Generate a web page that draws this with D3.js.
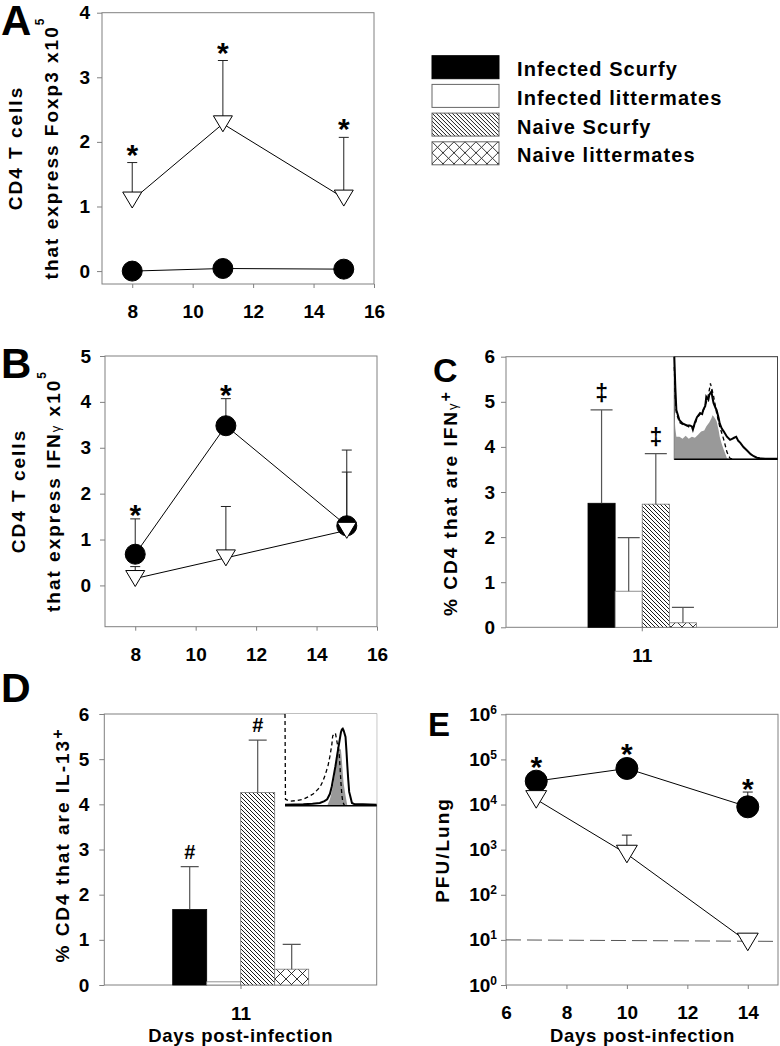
<!DOCTYPE html>
<html>
<head>
<meta charset="utf-8">
<script src="https://cdn.jsdelivr.net/npm/d3@7"></script>
<style>
body { margin: 0; background: #fff; }
svg text { font-family: "Liberation Sans", Arial, sans-serif; font-weight: bold; fill: #000; }
</style>
</head>
<body>
<svg id="fig" width="780" height="1046"></svg>
<script>

// ---- data ----
// A: CD4 T cells expressing Foxp3 (x10^5)
var foxDays = [8, 11, 15];
var foxScurfy = [0.0, 0.04, 0.03];
var foxScurfyErr = [0, 0, 0];
var foxLitter = [1.10, 2.28, 1.13];
var foxLitterErr = [0.58, 0.98, 0.94];
var foxLitterStar = [true, true, true];

// B: CD4 T cells expressing IFNg (x10^5)
var ifnDays = [8, 11, 15];
var ifnScurfy = [0.68, 3.48, 1.30];
var ifnScurfyErr = [0.77, 0.59, 1.65];
var ifnScurfyStar = [true, true, false];
var ifnLitter = [0.15, 0.60, 1.20];
var ifnLitterErr = [0.26, 1.12, 1.27];

// C / D: % of CD4 at day 11
var groups = ["Infected Scurfy", "Infected littermates", "Naive Scurfy", "Naive littermates"];
var groupFill = ["#000", "#fff", "url(#hatch)", "url(#cross)"];
var ifnPct = [2.75, 0.80, 2.73, 0.10];
var ifnPctErr = [2.07, 1.19, 1.12, 0.34];
var ifnPctMark = ["\u2021", "", "\u2021", ""];
var il13Pct = [1.67, 0.07, 4.26, 0.35];
var il13PctErr = [0.95, 0, 1.16, 0.55];
var il13PctMark = ["#", "", "#", ""];

// E: virus titre, PFU/lung
var pfuDays = [7, 10, 14];
var pfuScurfy = [3.3e4, 6.3e4, 8.9e3];
var pfuScurfyErr = [0, 0, 1.0e4];
var pfuScurfyStar = [true, true, true];
var pfuLitter = [1.3e4, 8.0e2, 9];
var pfuLitterErr = [0, 1.3e3, 0];
var detectionLimit = 10;

// insets: [channel, relative count]
var cSolid = [[0,100],[1,70],[2,48],[5,38],[8,35],[12,33],[15,33],[17,32],[18,29],[20,36],[22,41],[25,45],[27,44],[28,48],[30,52],[31,61],[33,58],[34,63],[36,66],[37,60],[38,55],[40,50],[41,48],[43,40],[44,35],[46,30],[48,27],[51,22],[54,19],[56,20],[58,21],[60,22],[62,18],[64,16],[67,12],[70,9],[74,5],[77,3],[80,1.5],[83,1],[88,0.5],[100,0.5]];
var cDashed = [[0,90],[1,60],[2,45],[5,36],[8,34],[12,33],[15,31],[18,30],[20,34],[22,40],[25,44],[28,47],[30,53],[32,58],[34,68],[35,74],[36,70],[38,62],[41,45],[44,32],[48,19],[51,7],[54,1],[58,0]];
var cGray = [[0,45],[1,30],[2,22],[5,22],[8,20],[11,23],[14,20],[17,22],[20,21],[23,24],[26,27],[29,28],[31,32],[34,36],[36,40],[37,43],[38,42],[40,39],[41,37],[43,28],[44,22],[46,15],[48,9],[50,4],[51,1],[53,0]];
var dSolid = [[0,1],[20,1.5],[30,2],[38,3],[43,5],[46,7],[49,13],[51,21],[53,32],[55,43],[57,56],[59,68],[61,80],[62,83],[63,84],[64,82],[66,75],[67,60],[68,43],[69,28],[70,15],[71,11],[73,3],[76,1.5],[85,1.5],[100,1]];
var dDashed = [[0,100],[0.5,7],[5,5],[12,5.5],[20,7],[26,10],[31,13],[35,17],[38,20],[41,26],[44,34],[47,44],[49,54],[51,66],[52,76],[54,79],[55,79],[57,68],[59,58],[60,42],[61,25],[62,12],[63,4],[65,0]];
var dGray = [[46,0],[49,7],[51,15],[53,25],[55,40],[56,50],[58,60],[59,63],[61,61],[62,50],[63,36],[64,24],[66,11],[68,0]];

var AXIS = "#808080";

var svg = d3.select("#fig");
svg.append("rect").attr("width", 780).attr("height", 1046).attr("fill", "#fff");

var defs = svg.append("defs");
var hatch = defs.append("pattern").attr("id", "hatch")
  .attr("patternUnits", "userSpaceOnUse").attr("width", 4).attr("height", 4);
hatch.append("rect").attr("width", 4).attr("height", 4).attr("fill", "#fff");
hatch.append("path").attr("d", "M-1,-1L5,5M3,-1L5,1M-1,3L1,5")
  .attr("stroke", "#000").attr("stroke-width", 0.9);
var cross = defs.append("pattern").attr("id", "cross")
  .attr("patternUnits", "userSpaceOnUse").attr("width", 11).attr("height", 11);
cross.append("rect").attr("width", 11).attr("height", 11).attr("fill", "#fff");
cross.append("path").attr("d", "M0,0L11,11M11,0L0,11")
  .attr("stroke", "#000").attr("stroke-width", 0.8);

function styleAxis(a, size) {
  a.attr("font-family", null).attr("font-size", null);
  a.select(".domain").remove();
  a.selectAll(".tick line").attr("stroke", AXIS);
  a.selectAll(".tick text").style("font-size", (size || 19) + "px");
}

function frame(g, x0, y0, x1, y1) {
  g.append("rect").attr("x", x0).attr("y", y0)
    .attr("width", x1 - x0).attr("height", y1 - y0)
    .attr("fill", "none").attr("stroke", AXIS).attr("stroke-width", 1);
}

function tri(r) {
  return "M" + (-r) + "," + (-r * 0.84) + "L" + r + "," + (-r * 0.84) + "L0," + (r * 0.84) + "Z";
}

// line / scatter panel
function linePanel(p) {
  var g = svg.append("g");
  var x = d3.scaleLinear().domain(p.xDomain).range([p.x0, p.x1]);
  var y = (p.log ? d3.scaleLog() : d3.scaleLinear()).domain(p.yDomain).range([p.y1, p.y0]);

  var ax = g.append("g").attr("transform", "translate(0," + p.y1 + ")")
    .call(d3.axisBottom(x).tickValues(p.xTicks).tickSize(4).tickPadding(p.xPad).tickFormat(d3.format("d")));
  styleAxis(ax);
  var ay = g.append("g").attr("transform", "translate(" + p.x0 + ",0)")
    .call(d3.axisLeft(y).tickValues(p.yTicks).tickSize(5).tickPadding(p.yPad).tickFormat(p.log ? "" : d3.format("d")));
  styleAxis(ay);
  if (p.log) {
    ay.selectAll(".tick text").each(function(d) {
      var t = d3.select(this);
      t.append("tspan").text("10");
      t.append("tspan").attr("dy", -7).style("font-size", "12px").text(Math.round(Math.log10(d)));
    });
  }
  frame(g, p.x0, p.y0, p.x1, p.y1);

  if (p.refLine) {
    g.append("line").attr("x1", p.x0).attr("x2", p.x1)
      .attr("y1", y(p.refLine)).attr("y2", y(p.refLine) + 1.5)
      .attr("stroke", "#555").attr("stroke-width", 1).attr("stroke-dasharray", "15,6");
  }

  var line = d3.line().x(function(d) { return x(d[0]); }).y(function(d) { return y(d[1]); });
  p.series.forEach(function(s) {
    g.append("path").datum(d3.zip(s.xs, s.ys)).attr("d", line)
      .attr("fill", "none").attr("stroke", "#000").attr("stroke-width", 1);
  });
  p.series.forEach(function(s) {
    s.xs.forEach(function(xv, i) {
      if (!s.errs[i]) return;
      var px = x(xv), top = y(s.ys[i] + s.errs[i]);
      g.append("path")
        .attr("d", "M" + px + "," + y(s.ys[i]) + "V" + top + "M" + (px - 5) + "," + top + "H" + (px + 5))
        .attr("stroke", "#222").attr("stroke-width", 1).attr("fill", "none");
    });
  });
  p.series.forEach(function(s) {
    g.selectAll(null).data(d3.zip(s.xs, s.ys)).enter().append("path")
      .attr("transform", function(d) { return "translate(" + x(d[0]) + "," + y(d[1]) + ")"; })
      .attr("d", s.shape === "circle" ? d3.symbol().type(d3.symbolCircle).size(Math.PI * p.r * p.r)() : tri(p.r * 0.95))
      .attr("fill", s.shape === "circle" ? "#000" : "#fff")
      .attr("stroke", "#000").attr("stroke-width", 1);
  });
  p.series.forEach(function(s) {
    if (!s.stars) return;
    s.xs.forEach(function(xv, i) {
      if (!s.stars[i]) return;
      var top = s.errs[i] ? y(s.ys[i] + s.errs[i]) : y(s.ys[i]) - p.r;
      g.append("text").attr("x", x(xv)).attr("y", top - p.starGap + 17)
        .attr("text-anchor", "middle").style("font-size", "30px").text("*");
    });
  });
  return g;
}

// bar panel (single day, four groups)
function barPanel(p) {
  var g = svg.append("g");
  var band = d3.scaleBand().domain(groups).range([p.gx0, p.gx1]).padding(0);
  var y = d3.scaleLinear().domain([0, 6]).range([p.y1, p.y0]);
  var xc = (p.x0 + p.x1) / 2;

  var ax = g.append("g").attr("transform", "translate(0," + p.y1 + ")")
    .call(d3.axisBottom(d3.scalePoint().domain(["11"]).range([xc, xc])).tickSize(4).tickPadding(p.xPad));
  styleAxis(ax);
  var ay = g.append("g").attr("transform", "translate(" + p.x0 + ",0)")
    .call(d3.axisLeft(y).ticks(6).tickSize(5).tickPadding(p.yPad).tickFormat(d3.format("d")));
  styleAxis(ay);
  frame(g, p.x0, p.y0, p.x1, p.y1);

  g.selectAll(null).data(groups).enter().append("rect")
    .attr("x", function(d) { return band(d); })
    .attr("width", band.bandwidth())
    .attr("y", function(d, i) { return y(p.values[i]); })
    .attr("height", function(d, i) { return y(0) - y(p.values[i]); })
    .attr("fill", function(d, i) { return groupFill[i]; })
    .attr("stroke", function(d, i) { return i === 0 ? "#000" : "#777"; })
    .attr("stroke-width", 0.8);

  groups.forEach(function(gr, i) {
    var cx = band(gr) + band.bandwidth() / 2;
    if (p.errs[i]) {
      var top = y(p.values[i] + p.errs[i]);
      g.append("path")
        .attr("d", "M" + cx + "," + y(p.values[i]) + "V" + top + "M" + (cx - p.capW / 2) + "," + top + "H" + (cx + p.capW / 2))
        .attr("stroke", "#555").attr("stroke-width", 1.2).attr("fill", "none");
    }
    if (p.marks[i]) {
      g.append("text").attr("x", cx).attr("y", y(p.values[i] + p.errs[i]) - p.markGap)
        .attr("text-anchor", "middle").style("font-size", p.markSize + "px").text(p.marks[i]);
    }
  });
  return g;
}

function inset(p) {
  var g = svg.append("g");
  var x = d3.scaleLinear().domain([0, 100]).range([p.x0, p.x1]);
  var y = d3.scaleLinear().domain([0, 100]).range([p.y1, p.y0]);
  g.append("rect").attr("x", p.x0).attr("y", p.y0)
    .attr("width", p.x1 - p.x0).attr("height", p.y1 - p.y0)
    .attr("fill", "#fff").attr("stroke", p.border ? "#444" : "none");
  var area = d3.area().x(function(d) { return x(d[0]); }).y0(y(0)).y1(function(d) { return y(d[1]); });
  var line = d3.line().x(function(d) { return x(d[0]); }).y(function(d) { return y(d[1]); });
  g.append("path").datum(p.gray).attr("d", area).attr("fill", "#999");
  g.append("path").datum(p.dashed).attr("d", line).attr("fill", "none")
    .attr("stroke", "#000").attr("stroke-width", 1.3).attr("stroke-dasharray", "4,3");
  g.append("path").datum(p.solid).attr("d", line).attr("fill", "none")
    .attr("stroke", "#000").attr("stroke-width", 2);
  g.append("line").attr("x1", p.x0).attr("x2", p.x1).attr("y1", p.y1).attr("y2", p.y1)
    .attr("stroke", "#000").attr("stroke-width", 1.5);
}

function yTitle(x, y, parts) {
  var t = svg.append("text").attr("transform", "translate(" + x + "," + y + ") rotate(-90)")
    .attr("text-anchor", "middle").style("font-size", "19px").style("letter-spacing", "2px");
  parts.forEach(function(pt) {
    var s = t.append("tspan").text(pt.t);
    if (pt.size) s.style("font-size", pt.size + "px");
    if (pt.dy) s.attr("dy", pt.dy);
    if (pt.normal) s.style("font-weight", "normal");
  });
  return t;
}

function panelLetter(x, y, size, txt) {
  svg.append("text").attr("x", x).attr("y", y).style("font-size", size + "px").text(txt);
}

// ---- panel A ----
linePanel({
  x0: 102, x1: 374, y0: 12.7, y1: 284,
  xDomain: [7, 16], yDomain: [-0.2, 4],
  xTicks: [8, 10, 12, 14, 16], yTicks: [0, 1, 2, 3, 4],
  xPad: 17, yPad: 7, r: 10, starGap: 15,
  series: [
    { xs: foxDays, ys: foxScurfy, errs: foxScurfyErr, shape: "circle" },
    { xs: foxDays, ys: foxLitter, errs: foxLitterErr, shape: "tri", stars: foxLitterStar }
  ]
});
yTitle(22, 148, [{ t: "CD4 T cells" }]);
yTitle(57.5, 148, [{ t: "that express Foxp3 x10" }, { t: "5", size: 12, dy: -14 }]);
panelLetter(1, 35, 42, "A");

// ---- legend ----
var legend = svg.append("g").selectAll("g").data(groups).enter().append("g")
  .attr("transform", function(d, i) { return "translate(432," + (55.7 + i * 28.7) + ")"; });
legend.append("rect").attr("width", 67).attr("height", 23)
  .attr("fill", function(d, i) { return groupFill[i]; })
  .attr("stroke", function(d, i) { return i === 0 ? "#000" : "#666"; }).attr("stroke-width", 1);
legend.append("text").attr("x", 85).attr("y", 20.5)
  .style("font-size", "20px").style("letter-spacing", "1.1px").text(function(d) { return d; });

// ---- panel B ----
linePanel({
  x0: 105, x1: 377, y0: 356, y1: 626.7,
  xDomain: [7, 16], yDomain: [-0.9, 5],
  xTicks: [8, 10, 12, 14, 16], yTicks: [0, 1, 2, 3, 4, 5],
  xPad: 17, yPad: 9, r: 10, starGap: 11,
  series: [
    { xs: ifnDays, ys: ifnScurfy, errs: ifnScurfyErr, shape: "circle", stars: ifnScurfyStar },
    { xs: ifnDays, ys: ifnLitter, errs: ifnLitterErr, shape: "tri" }
  ]
});
yTitle(24.5, 491, [{ t: "CD4 T cells" }]);
yTitle(59.5, 491, [{ t: "that express IFN" }, { t: "\u03b3", size: 13, normal: true }, { t: " x10" }, { t: "5", size: 12, dy: -14 }]);
panelLetter(1, 378, 42, "B");

// ---- panel C ----
barPanel({
  x0: 506, x1: 777.5, y0: 356.7, y1: 627.3,
  gx0: 588, gx1: 696.5, values: ifnPct, errs: ifnPctErr, marks: ifnPctMark,
  capW: 22, markGap: 9, markSize: 23, xPad: 17, yPad: 6
});
inset({ x0: 674.3, x1: 777.5, y0: 356.7, y1: 459.3, solid: cSolid, dashed: cDashed, gray: cGray, border: true });
yTitle(457, 503, [{ t: "% CD4 that are IFN" }, { t: "\u03b3", size: 13, normal: true }, { t: "+", size: 16, dy: -6 }]);
panelLetter(433, 382, 34, "C");

// ---- panel D ----
barPanel({
  x0: 104.3, x1: 376.7, y0: 714, y1: 985,
  gx0: 172.7, gx1: 308.7, values: il13Pct, errs: il13PctErr, marks: il13PctMark,
  capW: 18, markGap: 8, markSize: 20, xPad: 18, yPad: 10
});
inset({ x0: 285, x1: 376.7, y0: 714, y1: 805.7, solid: dSolid, dashed: dDashed, gray: dGray, border: false });
yTitle(68.5, 845, [{ t: "% CD4 that are IL-13" }, { t: "+", size: 16, dy: -6 }]);
svg.append("text").attr("x", 240.8).attr("y", 1041.7).attr("text-anchor", "middle")
  .style("font-size", "18.5px").style("letter-spacing", "0.7px").text("Days post-infection");
panelLetter(1, 702, 41, "D");

// ---- panel E ----
linePanel({
  x0: 506, x1: 778, y0: 714.3, y1: 985,
  xDomain: [6, 15], yDomain: [1, 1e6], log: true,
  xTicks: [6, 8, 10, 12, 14], yTicks: [1, 10, 100, 1e3, 1e4, 1e5, 1e6],
  xPad: 17, yPad: 4, r: 11, starGap: 10, refLine: detectionLimit,
  series: [
    { xs: pfuDays, ys: pfuScurfy, errs: pfuScurfyErr, shape: "circle", stars: pfuScurfyStar },
    { xs: pfuDays, ys: pfuLitter, errs: pfuLitterErr, shape: "tri" }
  ]
});
yTitle(448.6, 850, [{ t: "PFU/Lung" }]);
svg.append("text").attr("x", 642.5).attr("y", 1041.7).attr("text-anchor", "middle")
  .style("font-size", "18.5px").style("letter-spacing", "0.7px").text("Days post-infection");
panelLetter(428, 736, 33, "E");

</script>
</body>
</html>
